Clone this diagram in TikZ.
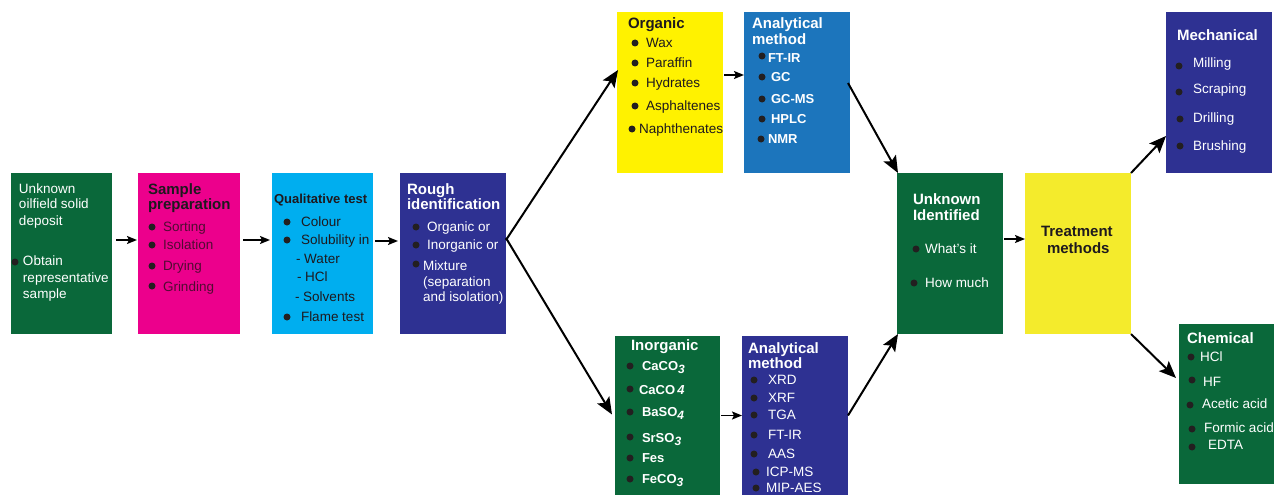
\documentclass[tikz,border=0pt]{standalone}
\usepackage{fontspec}
\setmainfont{Liberation Sans}
\usetikzlibrary{arrows.meta,calc}
\definecolor{dgreen}{RGB}{10,104,58}
\definecolor{magentab}{RGB}{236,0,140}
\definecolor{lblue}{RGB}{0,174,239}
\definecolor{indigo}{RGB}{46,49,146}
\definecolor{yelb}{RGB}{255,242,0}
\definecolor{blueb}{RGB}{28,117,188}
\definecolor{yelt}{RGB}{244,235,44}
\definecolor{bulc}{RGB}{35,31,32}
\definecolor{maroon}{RGB}{80,12,50}
\definecolor{darkt}{RGB}{30,25,30}
\newcommand\tx[4][]{\node[lbl,#1] (#2) at (#3) {#4};}
\newcommand\bul[1]{\fill[bulc] (#1) circle (3.5pt);}
\newcommand\sbi[1]{\raisebox{-0.45ex}{\fontsize{12}{12}\selectfont\itshape #1}}
\begin{document}
\begin{tikzpicture}[x=1pt,y=-1pt,
  box/.style={draw=none,inner sep=0,outer sep=0,anchor=north west},
  lbl/.style={anchor=west,inner sep=0,outer sep=0,text height=9.7pt,text depth=0pt,
    font=\fontsize{13.5}{15}\selectfont},
  hd/.style={font=\fontsize{15}{17}\selectfont\bfseries,text height=10.7pt},
  bd/.style={font=\fontsize{13}{15}\selectfont\bfseries,text height=9.3pt},
  sarr/.style={-{Stealth[length=10pt,width=8pt,inset=2pt]},line width=1.6pt},
  darr/.style={-{Stealth[length=17pt,width=14pt,inset=3.5pt]},line width=2pt}]
\useasboundingbox (0,0) rectangle (1274,495);

% boxes
\node[box,fill=dgreen,minimum width=101pt,minimum height=161pt] (b1) at (11,173) {};
\node[box,fill=magentab,minimum width=102pt,minimum height=161pt] (b2) at (138,173) {};
\node[box,fill=lblue,minimum width=101pt,minimum height=161pt] (b3) at (272,173) {};
\node[box,fill=indigo,minimum width=106pt,minimum height=161pt] (b4) at (400,173) {};
\node[box,fill=yelb,minimum width=106pt,minimum height=161pt] (org) at (617,12) {};
\node[box,fill=blueb,minimum width=106pt,minimum height=161pt] (an1) at (744,12) {};
\node[box,fill=dgreen,minimum width=105pt,minimum height=159pt] (inorg) at (615,336) {};
\node[box,fill=indigo,minimum width=106pt,minimum height=159pt] (an2) at (742,336) {};
\node[box,fill=dgreen,minimum width=106pt,minimum height=161pt] (unk) at (897,173) {};
\node[box,fill=yelt,minimum width=106pt,minimum height=161pt] (treat) at (1025,173) {};
\node[box,fill=indigo,minimum width=106pt,minimum height=161pt] (mech) at (1166,12) {};
\node[box,fill=dgreen,minimum width=95pt,minimum height=160pt] (chem) at (1179,324) {};

% box 1
\begin{scope}[every node/.style={text=white}]
\tx{b1a}{19,189}{Unknown}
\tx{b1b}{19,204}{oilfield solid}
\tx{b1c}{19,221}{deposit}
\tx{b1d}{23,261}{Obtain}
\tx{b1e}{23,278}{representative}
\tx{b1f}{23,294}{sample}
\end{scope}
\bul{15,262}

% box 2
\tx[hd,text=darkt]{b2a}{148,189}{Sample}
\tx[hd,text=darkt]{b2b}{148,204}{preparation}
\bul{152,227}\bul{152,245}\bul{152,266}\bul{152,286}
\tx[text=maroon]{b2c}{163,227}{Sorting}
\tx[text=maroon]{b2d}{163,245}{Isolation}
\tx[text=maroon]{b2e}{163,266}{Drying}
\tx[text=maroon]{b2f}{163,287}{Grinding}

% box 3
\tx[bd,text=darkt]{b3a}{274,199}{Qualitative test}
\bul{287,222}\bul{287,240}\bul{287,317}
\tx[text=darkt]{b3b}{301,222}{Colour}
\tx[text=darkt]{b3c}{301,240}{Solubility in}
\tx[text=darkt]{b3d}{296,259}{- Water}
\tx[text=darkt]{b3e}{297,277}{- HCl}
\tx[text=darkt]{b3f}{295,297}{- Solvents}
\tx[text=darkt]{b3g}{301,317}{Flame test}

% box 4
\tx[hd,text=white]{b4a}{407,189}{Rough}
\tx[hd,text=white]{b4b}{407,204}{identification}
\bul{416,227}\bul{416,245}\bul{416,264}
\tx[text=white]{b4c}{427,227}{Organic or}
\tx[text=white]{b4d}{427,245}{Inorganic or}
\tx[text=white]{b4e}{423,266}{Mixture}
\tx[text=white]{b4f}{423,282}{(separation}
\tx[text=white]{b4g}{423,297}{and isolation)}

% organic
\tx[hd,text=darkt]{oa}{628,23}{Organic}
\bul{635,43}\bul{635,63}\bul{635,83}\bul{635,106}\bul{632,129}
\tx[text=darkt]{ob}{646,43}{Wax}
\tx[text=darkt]{oc}{646,63}{Paraffin}
\tx[text=darkt]{od}{646,83}{Hydrates}
\tx[text=darkt]{oe}{646,106}{Asphaltenes}
\tx[text=darkt]{of}{639,129}{Naphthenates}

% analytical 1
\tx[hd,text=white]{a1a}{752,23}{Analytical}
\tx[hd,text=white]{a1b}{752,39}{method}
\bul{762,56}\bul{762,77}\bul{762,99}\bul{762,119}\bul{761,139}
\tx[bd,text=white]{a1c}{768,58}{FT-IR}
\tx[bd,text=white]{a1d}{771,77}{GC}
\tx[bd,text=white]{a1e}{771,99}{GC-MS}
\tx[bd,text=white]{a1f}{771,119}{HPLC}
\tx[bd,text=white]{a1g}{768,139}{NMR}

% inorganic
\tx[hd,text=white]{ia}{631,345}{Inorganic}
\bul{630,366}\bul{630,389}\bul{630,412}\bul{630,437}\bul{630,458}\bul{630,479}
\tx[bd,text=white]{ib}{642,366}{CaCO\sbi{3}}
\tx[bd,text=white]{ic}{639,390}{CaCO\,\textit{4}}
\tx[bd,text=white]{id}{642,412}{BaSO\sbi{4}}
\tx[bd,text=white]{ie}{642,438}{SrSO\sbi{3}}
\tx[bd,text=white]{if}{642,458}{Fes}
\tx[bd,text=white]{ig}{642,479}{FeCO\sbi{3}}

% analytical 2
\tx[hd,text=white]{a2a}{748,348}{Analytical}
\tx[hd,text=white]{a2b}{748,363}{method}
\bul{754,380}\bul{754,398}\bul{754,415}\bul{754,435}\bul{754,454}\bul{756,472}\bul{756,488}
\begin{scope}[every node/.style={text=white,font=\fontsize{13}{15}\selectfont}]
\tx{a2c}{768,380}{XRD}
\tx{a2d}{768,398}{XRF}
\tx{a2e}{768,415}{TGA}
\tx{a2f}{768,435}{FT-IR}
\tx{a2g}{768,454}{AAS}
\tx{a2h}{766,472}{ICP-MS}
\tx{a2i}{766,488}{MIP-AES}
\end{scope}

% unknown identified
\tx[hd,text=white]{ua}{913,199}{Unknown}
\tx[hd,text=white]{ub}{913,215}{Identified}
\bul{916,249}\bul{914,283}
\tx[text=white]{uc}{925,249}{What’s it}
\tx[text=white]{ud}{925,283}{How much}

% treatment
\tx[hd,text=darkt]{ta}{1041,231}{Treatment}
\tx[hd,text=darkt]{tb}{1047,248}{methods}

% mechanical
\tx[hd,text=white]{ma}{1177,35}{Mechanical}
\bul{1179,66}\bul{1179,92}\bul{1180,119}\bul{1180,146}
\tx[text=white]{mb}{1193,63}{Milling}
\tx[text=white]{mc}{1193,89}{Scraping}
\tx[text=white]{md}{1193,118}{Drilling}
\tx[text=white]{me}{1193,146}{Brushing}

% chemical
\tx[hd,text=white]{ca}{1187,338}{Chemical}
\bul{1191,357}\bul{1192,380}\bul{1190,405}\bul{1192,429}\bul{1192,447}
\tx[text=white]{cb}{1200,357}{HCl}
\tx[text=white]{cc}{1203,382}{HF}
\tx[text=white]{cd}{1202,404}{Acetic acid}
\tx[text=white]{ce}{1204,428}{Formic acid}
\tx[text=white]{cf}{1208,445}{EDTA}

% connectors
\draw[sarr] ($(b1.east)+(4,-13.5)$) -- ($(b2.west)+(-1,-13.5)$);
\draw[sarr] ($(b2.east)+(3,-13.5)$) -- ($(b3.west)+(-2,-13.5)$);
\draw[sarr] ($(b3.east)+(2,-12.5)$) -- ($(b4.west)+(-2,-12.5)$);
\draw[darr] ($(b4.east)+(0,-13.5)$) -- ($(org.west)+(1,-22.5)$);
\draw[darr] ($(b4.east)+(0,-15.5)$) -- ($(inorg.west)+(-3,-1)$);
\draw[sarr] ($(org.east)+(1,-17.5)$) -- ($(an1.west)+(0,-17.5)$);
\draw[sarr] ($(inorg.east)+(1,0)$) -- ($(an2.west)+(0,0)$);
\draw[darr] ($(an1.east)+(-2,-9.5)$) -- ($(unk.north west)+(1,0)$);
\draw[darr] ($(an2.east)+(0,0)$) -- ($(unk.south west)+(1,0)$);
\draw[sarr] ($(unk.east)+(1,-14.5)$) -- ($(treat.west)+(0,-14.5)$);
\draw[darr] (treat.north east) -- ($(mech.west)+(0,43.5)$);
\draw[darr] (treat.south east) -- ($(chem.west)+(-3,-26)$);
\end{tikzpicture}
\end{document}
